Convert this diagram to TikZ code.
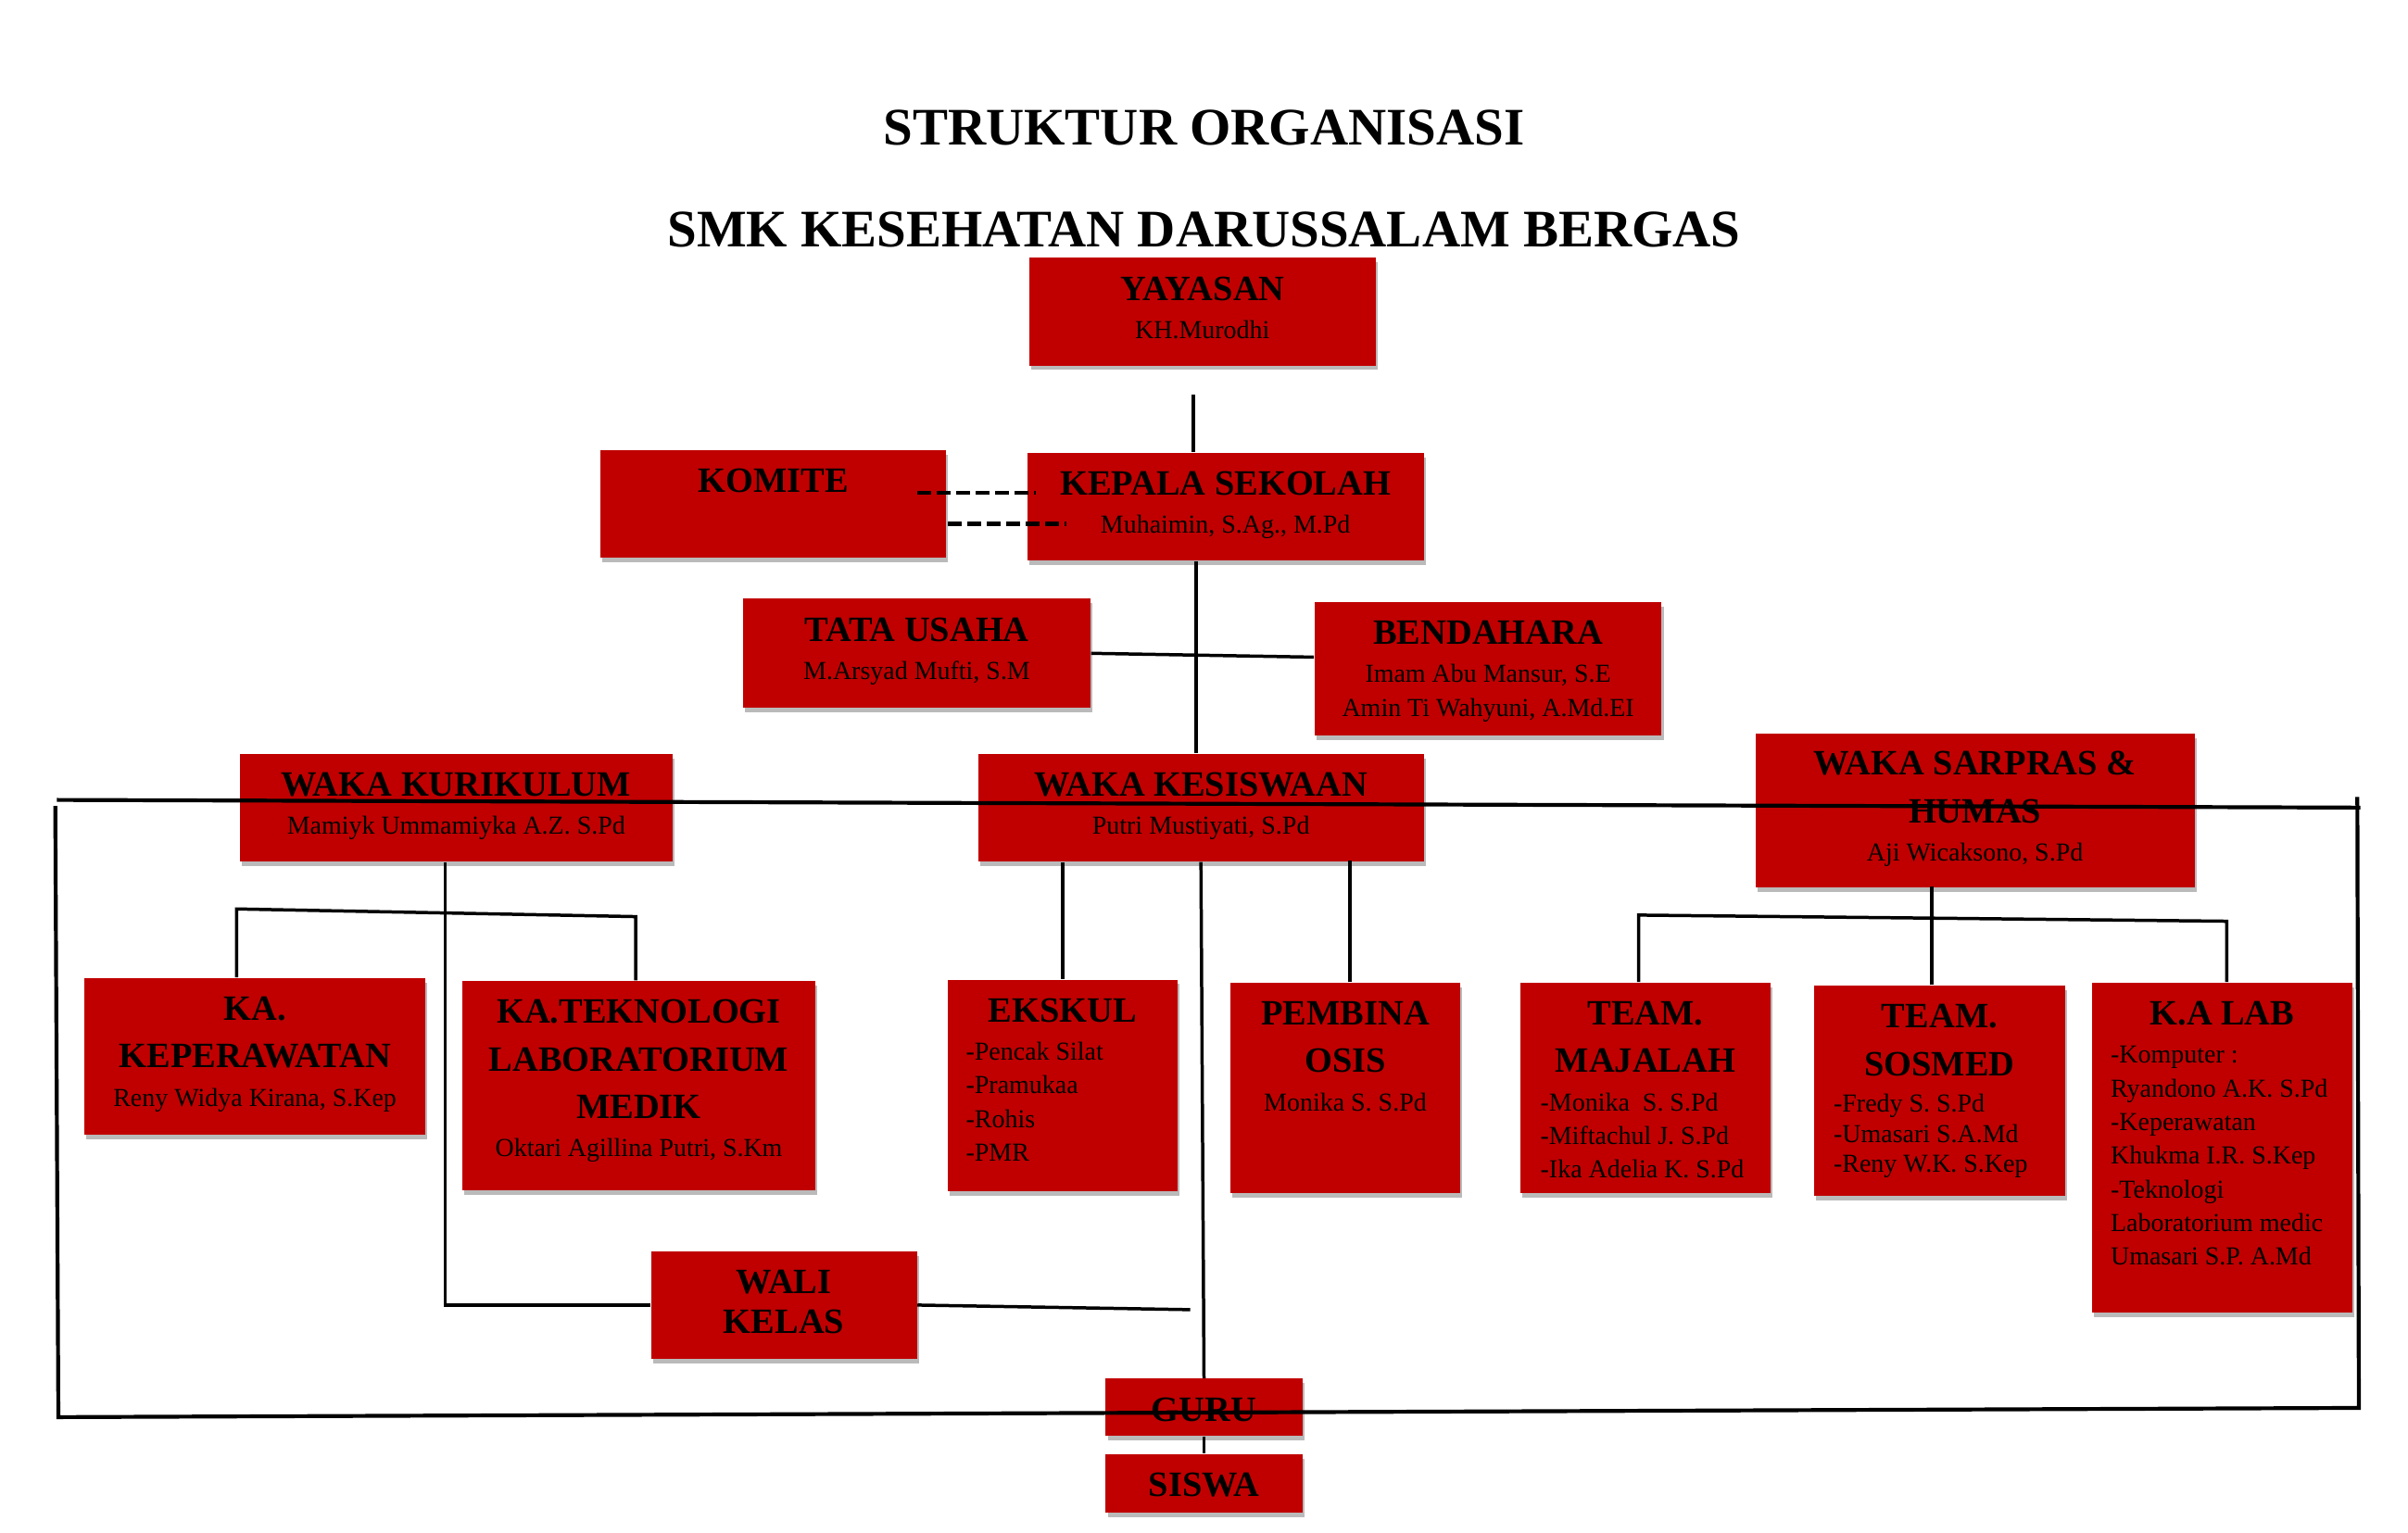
\documentclass[tikz,border=0pt]{standalone}
\usepackage{fontspec}
\setmainfont{Liberation Serif}
\usetikzlibrary{positioning,shadows,calc}

\definecolor{merah}{RGB}{192,0,0}
\newcommand{\jdl}{\fontsize{11}{14.7}\selectfont\bfseries}
\newcommand{\nma}{\fontsize{8}{10.4}\selectfont}
\newcommand{\kiri}{\leftskip=0pt\rightskip=-3em plus 1fil\parfillskip=0pt plus 1fil\relax}

\tikzset{
    kotak/.style={fill=merah, inner sep=0pt,
        drop shadow={shadow xshift=0.6pt, shadow yshift=-1.4pt, fill=black!45, opacity=0.6}},
    isi/.style={text width=#1, align=flush center, inner sep=0pt},
    garis/.style={line width=1pt},
    putus/.style={line width=1.3pt, dash pattern=on 4.2pt off 1.8pt},
    bingkai/.style={line width=1.2pt},
    besar/.style={font=\fontsize{16.3}{20}\selectfont\bfseries, anchor=base}
}

\begin{document}
\begin{tikzpicture}[x=0.16667mm, y=-0.16667mm]
    \useasboundingbox (0,0) rectangle (1568,998);

    % judul
    \node[besar] (judul) at (784,94.6) {STRUKTUR ORGANISASI};
    \node[besar] (sekolah) at (784,161) {SMK KESEHATAN DARUSSALAM BERGAS};

    \coordinate (yysB) at (777,257);

    % kotak atas
    \node[kotak, minimum width=37.67mm, minimum height=11.67mm] (yys) at (783,203) {};
    \node[isi=33.3mm, below=5.8pt of yys.north] (yysT) {{\jdl YAYASAN\par}\vspace{1.4pt}{\nma KH.Murodhi\par}};

    \node[kotak, minimum width=37.5mm, minimum height=11.67mm] (kmt) at (503.5,328) {};
    \node[isi=33.2mm, below=5.8pt of kmt.north] (kmtT) {\jdl KOMITE};

    \node[kotak, minimum width=43mm, minimum height=11.67mm] (kps) at (798,330) {};
    \node[isi=38.7mm, below=5.8pt of kps.north] (kpsT) {{\jdl KEPALA SEKOLAH\par}\vspace{1.4pt}{\nma Muhaimin, S.Ag., M.Pd\par}};

    \node[kotak, minimum width=37.67mm, minimum height=11.83mm] (tu) at (597,425.5) {};
    \node[isi=33.3mm, below=5.8pt of tu.north] (tuT) {{\jdl TATA USAHA\par}\vspace{1.4pt}{\nma M.Arsyad Mufti, S.M\par}};

    \node[kotak, minimum width=37.67mm, minimum height=14.5mm] (bdh) at (969,435.5) {};
    \node[isi=33.3mm, below=5.8pt of bdh.north] (bdhT) {{\jdl BENDAHARA\par}\vspace{1.4pt}{\nma Imam Abu Mansur, S.E\par Amin Ti Wahyuni, A.Md.EI\par}};

    % waka
    \node[kotak, minimum width=47mm, minimum height=11.67mm] (wkr) at (297,526) {};
    \node[isi=42.7mm, below=5.8pt of wkr.north] (wkrT) {{\jdl WAKA KURIKULUM\par}\vspace{1.4pt}{\nma Mamiyk Ummamiyka A.Z. S.Pd\par}};

    \node[kotak, minimum width=48.33mm, minimum height=11.67mm] (wks) at (782,526) {};
    \node[isi=44mm, below=5.8pt of wks.north] (wksT) {{\jdl WAKA KESISWAAN\par}\vspace{1.4pt}{\nma Putri Mustiyati, S.Pd\par}};

    \node[kotak, minimum width=47.67mm, minimum height=16.67mm] (wsh) at (1286,528) {};
    \node[isi=43.3mm, below=5.4pt of wsh.north] (wshT) {{\jdl WAKA SARPRAS \&\par HUMAS\par}\vspace{1.4pt}{\nma Aji Wicaksono, S.Pd\par}};

    % bawah
    \node[kotak, minimum width=37mm, minimum height=17mm] (kkp) at (166,688) {};
    \node[isi=32.7mm, below=5.8pt of kkp.north] (kkpT) {{\jdl KA.\par KEPERAWATAN\par}\vspace{1.4pt}{\nma Reny Widya Kirana, S.Kep\par}};

    \node[kotak, minimum width=38.33mm, minimum height=22.67mm] (ktl) at (416,707) {};
    \node[isi=34mm, below=5.8pt of ktl.north] (ktlT) {{\jdl KA.TEKNOLOGI\par LABORATORIUM\par MEDIK\par}\vspace{1.4pt}{\nma Oktari Agillina Putri, S.Km\par}};

    \node[kotak, minimum width=25mm, minimum height=23mm] (eks) at (692,707) {};
    \node[isi=21mm, below=5.8pt of eks.north] (eksT) {{\jdl EKSKUL\par}\vspace{1.4pt}{\nma\kiri -Pencak Silat\par -Pramukaa\par -Rohis\par -PMR\par}};

    \node[kotak, minimum width=25mm, minimum height=22.83mm] (pos) at (876,708.5) {};
    \node[isi=20.7mm, below=5.8pt of pos.north] (posT) {{\jdl PEMBINA\par OSIS\par}\vspace{1.4pt}{\nma Monika S. S.Pd\par}};

    \node[kotak, minimum width=27.17mm, minimum height=22.83mm] (mjl) at (1071.5,708.5) {};
    \node[isi=22.8mm, below=5.8pt of mjl.north] (mjlT) {{\jdl TEAM.\par MAJALAH\par}\vspace{1.4pt}{\nma\kiri -Monika\ \ S. S.Pd\par -Miftachul J. S.Pd\par -Ika Adelia K. S.Pd\par}};

    \node[kotak, minimum width=27.33mm, minimum height=22.83mm] (ssm) at (1263,710.5) {};
    \node[isi=23mm, below=5.8pt of ssm.north] (ssmT) {{\jdl TEAM.\par SOSMED\par}\vspace{2pt}{\fontsize{8}{9.3}\selectfont\kiri -Fredy S. S.Pd\par -Umasari S.A.Md\par -Reny W.K. S.Kep\par}};

    \node[kotak, minimum width=28.33mm, minimum height=35.83mm] (lab) at (1447,747.5) {};
    \node[isi=24.2mm, below=5.8pt of lab.north] (labT) {{\jdl K.A LAB\par}\vspace{1.4pt}{\nma\kiri -Komputer :\par Ryandono A.K. S.Pd\par -Keperawatan\par Khukma I.R. S.Kep\par -Teknologi\par Laboratorium medic\par Umasari S.P. A.Md\par}};

    \node[kotak, minimum width=28.83mm, minimum height=11.67mm] (wali) at (510.5,850) {};
    \node[isi=24.5mm, below=5.8pt of wali.north] (waliT) {{\fontsize{11}{12.4}\selectfont\bfseries WALI\par KELAS\par}};

    \node[kotak, minimum width=21.33mm, minimum height=6.17mm] (guru) at (784,916.5) {};
    \node[isi=17mm, below=5.8pt of guru.north] (guruT) {\jdl GURU};

    \node[kotak, minimum width=21.33mm, minimum height=6.33mm] (sis) at (784,966) {};
    \node[isi=17mm, below=5.8pt of sis.north] (sisT) {\jdl SISWA};

    % garis
    \draw[garis] (yysB) -- (yysB |- kps.north);
    \draw[putus] ($(kmt.east)+(-19,-7)$) -- +(77,0);
    \draw[putus] ($(kmt.east)+(1,13)$) -- +(77,0);
    \draw[garis] (wks.north) ++(-3,0) -- (kps.south -| 779,0);
    \draw[garis] (tu.east) -- ($(bdh.west)+(0,-7.5)$);

    \coordinate (kaL) at (154,592);
    \coordinate (kaR) at (414,597);
    \draw[garis] (kkp.north -| kaL) -- (kaL) -- (kaR) -- (ktl.north -| kaR);
    \draw[garis] (wkr.south) ++(-7,0) |- (wali.west);
    \coordinate (waliK) at (775,853);
    \draw[garis] (wali.east) -- (waliK);

    \draw[garis] (eks.north) -- (eks.north |- wks.south);
    \draw[garis] ($(pos.north)+(3,0)$) -- ($(pos.north)+(3,-79)$);
    \draw[garis] (wks.south) -- (guru.north);
    \draw[garis] (guru.south) -- (sis.north);

    \coordinate (spL) at (1067,596);
    \coordinate (spR) at (1450,600);
    \draw[garis] (mjl.north -| spL) -- (spL) -- (spR) -- (lab.north -| spR);
    \draw[garis] ($(ssm.north)+(-5,0)$) -- ($(ssm.north)+(-5,-64)$);

    % bingkai
    \draw[bingkai] (37,521) -- (1537,526);
    \draw[bingkai] (1535,519) -- (1536,917) -- (38,923) -- (36,525);
\end{tikzpicture}
\end{document}
